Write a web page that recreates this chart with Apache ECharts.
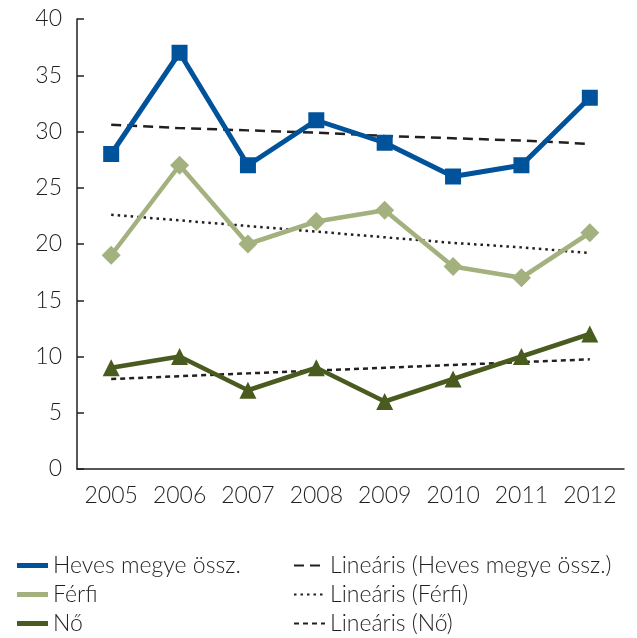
<!DOCTYPE html>
<html>
<head>
<meta charset="utf-8">
<script src="https://cdn.jsdelivr.net/npm/echarts@6/dist/echarts.min.js"></script>
<style>
  html, body { margin: 0; padding: 0; background: #fff; }
  #chart { width: 637px; height: 638px; }
</style>
</head>
<body>
<div id="chart"></div>
<script>
const years = ['2005', '2006', '2007', '2008', '2009', '2010', '2011', '2012'];
const heves = [28, 37, 27, 31, 29, 26, 27, 33];
const ferfi = [19, 27, 20, 22, 23, 18, 17, 21];
const no = [9, 10, 7, 9, 6, 8, 10, 12];
// trend lines
const hevesTrend = [30.6, 30.3, 30.1, 29.9, 29.6, 29.4, 29.2, 28.9];
const ferfiTrend = [22.6, 22.1, 21.6, 21.1, 20.6, 20.1, 19.7, 19.2];
const noTrend = [8.0, 8.25, 8.5, 8.75, 9.0, 9.25, 9.5, 9.75];

const ink = '#231f20';
const font = 'Lato';

var myChart = echarts.init(document.getElementById('chart'));
myChart.setOption({
  animation: false,
  textStyle: { fontFamily: font, color: ink },
  grid: { left: 77, right: 13, top: 19, bottom: 169 },
  legend: [
    {
      orient: 'vertical',
      left: 12,
      top: 549,
      height: 89,
      itemWidth: 31,
      itemHeight: 5,
      itemGap: 6,
      icon: 'rect',
      textStyle: { fontSize: 23, fontWeight: 300, color: ink, fontFamily: font, padding: [0, 0, 0, 0] },
      data: ['Heves megye össz.', 'Férfi', 'Nő'],
    },
    {
      orient: 'vertical',
      left: 288,
      top: 549,
      height: 89,
      itemWidth: 31,
      itemHeight: 5,
      itemGap: 6,
      itemStyle: { opacity: 0 },
      textStyle: { fontSize: 23, fontWeight: 300, color: ink, fontFamily: font, padding: [0, 0, 0, 0] },
      data: ['Lineáris (Heves megye össz.)', 'Lineáris (Férfi)', 'Lineáris (Nő)'],
    },
  ],
  xAxis: {
    type: 'category',
    data: years,
    boundaryGap: true,
    axisLine: { lineStyle: { color: ink, width: 1.5 } },
    axisTick: { inside: true, length: 7, lineStyle: { color: ink, width: 1.5 } },
    axisLabel: { interval: 0, fontSize: 23, fontWeight: 300, color: ink, margin: 15, fontFamily: font },
  },
  yAxis: {
    type: 'value',
    min: 0,
    max: 40,
    interval: 5,
    axisLine: { show: true, lineStyle: { color: ink, width: 1.5 } },
    axisTick: { show: true, inside: true, length: 7, lineStyle: { color: ink, width: 1.5 } },
    axisLabel: { fontSize: 23, fontWeight: 300, color: ink, margin: 15, fontFamily: font },
    splitLine: { show: false },
  },
  series: [
    {
      name: 'Lineáris (Heves megye össz.)',
      type: 'line',
      data: hevesTrend,
      symbol: 'none',
      z: 1,
      lineStyle: { color: ink, width: 2.5, type: [10, 6] },
      itemStyle: { color: ink },
    },
    {
      name: 'Lineáris (Férfi)',
      type: 'line',
      data: ferfiTrend,
      symbol: 'none',
      z: 1,
      lineStyle: { color: ink, width: 2.5, type: [2.5, 4] },
      itemStyle: { color: ink },
    },
    {
      name: 'Lineáris (Nő)',
      type: 'line',
      data: noTrend,
      symbol: 'none',
      z: 1,
      lineStyle: { color: ink, width: 2.5, type: [5, 4] },
      itemStyle: { color: ink },
    },
    {
      name: 'Heves megye össz.',
      type: 'line',
      data: heves,
      symbol: 'rect',
      symbolSize: 16,
      z: 3,
      lineStyle: { color: '#00529b', width: 5 },
      itemStyle: { color: '#00529b' },
    },
    {
      name: 'Férfi',
      type: 'line',
      data: ferfi,
      symbol: 'diamond',
      symbolSize: 19,
      z: 3,
      lineStyle: { color: '#a3b17f', width: 4.5 },
      itemStyle: { color: '#a3b17f' },
    },
    {
      name: 'Nő',
      type: 'line',
      data: no,
      symbol: 'triangle',
      symbolSize: 17,
      z: 3,
      lineStyle: { color: '#4a5b1f', width: 4.5 },
      itemStyle: { color: '#4a5b1f' },
    },
  ],
});
</script>
</body>
</html>
